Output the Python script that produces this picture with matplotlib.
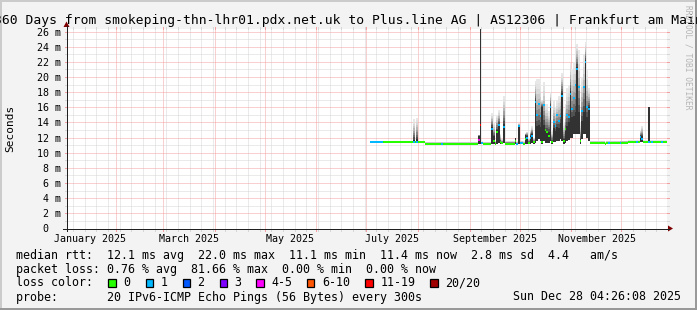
import numpy as np
import pandas as pd
import matplotlib
matplotlib.use("Agg")
import matplotlib.pyplot as plt
import matplotlib.dates as mdates
import matplotlib.transforms as mtransforms
from matplotlib.collections import LineCollection
from matplotlib.patches import Rectangle, Polygon
from matplotlib.lines import Line2D

# ---------------------------------------------------------------- data
TITLE = "360 Days from smokeping-thn-lhr01.pdx.net.uk to Plus.line AG | AS12306 | Frankfurt am Main"
END_TIME = "2025-12-28 04:26:08"
SPAN_DAYS = 360

DATES = [
    "2025-07-03", "2025-07-11", "2025-07-29", "2025-07-30", "2025-07-31", "2025-08-01",
    "2025-08-05", "2025-08-15", "2025-08-16", "2025-09-06", "2025-09-07", "2025-09-08",
    "2025-09-09", "2025-09-14", "2025-09-15", "2025-09-16", "2025-09-17", "2025-09-18",
    "2025-09-19", "2025-09-20", "2025-09-21", "2025-09-22", "2025-09-28", "2025-09-29",
    "2025-09-30", "2025-10-01", "2025-10-03", "2025-10-04", "2025-10-05", "2025-10-06",
    "2025-10-07", "2025-10-08", "2025-10-09", "2025-10-10", "2025-10-11", "2025-10-12",
    "2025-10-13", "2025-10-14", "2025-10-15", "2025-10-16", "2025-10-17", "2025-10-18",
    "2025-10-19", "2025-10-20", "2025-10-21", "2025-10-22", "2025-10-23", "2025-10-24",
    "2025-10-25", "2025-10-26", "2025-10-27", "2025-10-28", "2025-10-29", "2025-10-30",
    "2025-10-31", "2025-11-01", "2025-11-02", "2025-11-03", "2025-11-04", "2025-11-05",
    "2025-11-06", "2025-11-07", "2025-11-08", "2025-11-09", "2025-11-10", "2025-11-11",
    "2025-11-12", "2025-11-21", "2025-11-22", "2025-11-23", "2025-11-24", "2025-11-30",
    "2025-12-01", "2025-12-05", "2025-12-10", "2025-12-11", "2025-12-12", "2025-12-13",
    "2025-12-14", "2025-12-17", "2025-12-18", "2025-12-19", "2025-12-20", "2025-12-25",
    "2025-12-26",
]
MEDIAN_MS = [
    11.43, 11.43, 11.43, 11.43, 11.43, 11.43,
    11.17, 11.17, 11.17, 11.65, 13.7, 11.3,
    11.17, 13.2, 11.6, 11.2, 12.75, 13.6,
    11.4, 11.3, 13.4, 11.2, 11.5, 11.2,
    13.5, 11.3, 11.2, 11.8, 11.9, 11.3,
    11.9, 12.2, 11.4, 16.7, 15.0, 16.5,
    14.9, 11.4, 16.3, 13.0, 12.75, 12.2,
    16.0, 11.4, 14.1, 13.5, 14.95, 14.2,
    14.8, 17.5, 11.5, 13.2, 14.95, 14.7,
    17.8, 15.8, 17.2, 18.9, 21.0, 18.7,
    11.5, 15.5, 18.7, 22.0, 16.0, 15.8,
    11.3, 11.15, 11.3, 11.3, 11.3, 11.35,
    11.35, 11.43, 11.43, 11.43, 12.1, 11.8,
    11.43, 11.43, 11.43, 11.43, 11.43, 11.43,
    11.43,
]
LOSS = [
    1, 0, 1, 0, 1, 0,
    0, 1, 0, 4, 15, 1,
    0, 1, 0, 0, 0, 1,
    0, 0, 1, 0, 0, 1,
    1, 1, 0, 0, 1, 0,
    1, 1, 0, 1, 1, 1,
    1, 0, 1, 0, 0, 0,
    1, 0, 1, 1, 1, 1,
    1, 1, 0, 0, 1, 1,
    1, 1, 1, 1, 1, 1,
    0, 1, 1, 1, 1, 1,
    0, 0, 0, 1, 0, 1,
    0, 0, 1, 0, 1, 1,
    0, 1, 0, 1, 0, 1,
    0,
]
SMOKE_LO_MS = [
    11.35, 11.35, 11.35, 11.35, 11.35, 11.35,
    11.1, 11.1, 11.1, 11.2, 11.2, 11.1,
    11.1, 11.2, 11.2, 11.1, 11.2, 11.3,
    11.2, 11.2, 11.3, 11.1, 11.2, 11.1,
    11.2, 11.1, 11.1, 11.2, 11.2, 11.1,
    11.2, 11.3, 11.2, 11.3, 11.5, 11.8,
    11.6, 11.2, 11.5, 11.3, 11.3, 11.3,
    11.5, 11.2, 11.4, 11.4, 11.5, 11.5,
    11.8, 11.5, 11.2, 11.3, 11.6, 11.7,
    12.0, 12.0, 12.5, 12.5, 12.5, 12.5,
    11.2, 11.8, 12.5, 12.5, 12.0, 11.5,
    11.1, 11.05, 11.1, 11.1, 11.1, 11.15,
    11.15, 11.3, 11.3, 11.3, 11.4, 11.4,
    11.3, 11.35, 11.3, 11.3, 11.3, 11.3,
    11.3,
]
SMOKE_DARK_MS = [
    11.43, 11.43, 11.43, 11.43, 11.43, 11.43,
    11.17, 11.17, 11.17, 12.2, 26.4, 11.3,
    11.17, 13.2, 12.0, 11.2, 12.75, 13.6,
    11.4, 11.3, 13.4, 11.2, 11.9, 11.2,
    13.5, 11.3, 11.2, 12.3, 12.2, 11.3,
    12.2, 12.4, 11.4, 16.7, 12.8, 13.0,
    12.8, 16.0, 13.0, 12.5, 12.5, 12.5,
    16.0, 11.4, 12.8, 12.5, 13.0, 12.8,
    13.5, 17.6, 11.5, 12.5, 13.0, 13.5,
    17.8, 14.0, 14.0, 14.5, 21.0, 14.5,
    11.5, 13.5, 14.5, 22.0, 14.0, 15.8,
    11.3, 11.15, 11.3, 11.3, 11.3, 11.35,
    11.35, 11.43, 11.43, 11.43, 12.1, 12.1,
    11.43, 16.05, 11.43, 11.43, 11.43, 11.43,
    11.43,
]
SMOKE_HI_MS = [
    11.6, 11.6, 14.4, 11.6, 14.65, 11.6,
    11.45, 11.45, 11.45, 12.4, 26.4, 11.5,
    11.45, 15.2, 14.0, 11.6, 15.0, 15.6,
    12.5, 11.8, 17.5, 11.6, 12.0, 11.5,
    13.9, 11.6, 11.5, 12.6, 12.8, 12.0,
    12.9, 13.5, 12.0, 19.5, 19.8, 19.8,
    19.4, 17.0, 19.4, 16.5, 16.5, 15.5,
    18.0, 13.0, 16.8, 16.0, 17.0, 17.5,
    18.0, 20.5, 14.0, 16.5, 18.5, 19.0,
    21.8, 21.0, 22.0, 23.0, 24.4, 23.5,
    14.0, 20.0, 23.0, 24.6, 21.0, 18.5,
    11.6, 11.45, 11.6, 11.6, 11.6, 11.6,
    11.6, 11.65, 11.65, 11.65, 13.0, 13.5,
    11.65, 16.05, 11.65, 11.65, 11.65, 11.65,
    11.65,
]

Y_MAX_MS = 26.4
Y_TICKS = [0, 2, 4, 6, 8, 10, 12, 14, 16, 18, 20, 22, 24, 26]
Y_TICK_LABELS = ["0  ", "2 m", "4 m", "6 m", "8 m", "10 m", "12 m", "14 m",
                 "16 m", "18 m", "20 m", "22 m", "24 m", "26 m"]
X_LABEL_MONTHS = ["2025-01-01", "2025-03-01", "2025-05-01",
                  "2025-07-01", "2025-09-01", "2025-11-01"]
X_LABELS = ["January 2025", "March 2025", "May 2025",
            "July 2025", "September 2025", "November 2025"]

LOSS_LABELS = ["0", "1", "2", "3", "4-5", "6-10", "11-19", "20/20"]
LOSS_UPPER = [0, 1, 2, 3, 5, 10, 19, 20]
LOSS_COLORS = ["#26ff00", "#00b8ff", "#0059ff", "#7e00ff",
               "#ff00ff", "#ff5500", "#ff0000", "#a10000"]

RTT_LINE = "median rtt:  12.1 ms avg  22.0 ms max  11.1 ms min  11.4 ms now  2.8 ms sd  4.4   am/s"
LOSS_LINE = "packet loss: 0.76 % avg  81.66 % max  0.00 % min  0.00 % now"
PROBE_LINE = "probe:       20 IPv6-ICMP Echo Pings (56 Bytes) every 300s"
STAMP_TEXT = "Sun Dec 28 04:26:08 2025"

# ---------------------------------------------------------------- layout
W, H = 697, 310
MONO = "DejaVu Sans Mono"
fig = plt.figure(figsize=(W / 100, H / 100), dpi=100)
fig.patch.set_facecolor("#f3f3f3")
PX = mtransforms.Affine2D().scale(1.0 / W, -1.0 / H).translate(0, 1) + fig.transFigure

X0, X1, Y0, Y1 = 66.5, 666.5, 228.5, 28.5
ax = fig.add_axes([X0 / W, 1 - Y0 / H, (X1 - X0) / W, (Y0 - Y1) / H])
ax.set_facecolor("white")
for s in ax.spines.values():
    s.set_visible(False)

end = pd.Timestamp(END_TIME)
start = end - pd.Timedelta(days=SPAN_DAYS)
ax.set_xlim(mdates.date2num(start), mdates.date2num(end))
ax.set_ylim(0, Y_MAX_MS)

MINOR_C = "#d6d6d6"
MAJOR_C = "#f4a0a0"
DOT = (0, (1, 1))
ext_y = 2.0 / (Y0 - Y1)
ext_x = 2.0 / (X1 - X0)
tv = mtransforms.blended_transform_factory(ax.transData, ax.transAxes)
th = mtransforms.blended_transform_factory(ax.transAxes, ax.transData)

weeks = pd.date_range(start.normalize(), end, freq="W-MON")
months = pd.date_range("2025-02-01", end, freq="MS")
for d, col in [(d, MINOR_C) for d in weeks if d.day != 1] + [(d, MAJOR_C) for d in months]:
    xd = mdates.date2num(d)
    ax.plot([xd, xd], [-ext_y, 1 + ext_y], transform=tv, color=col, lw=0.72,
            ls=DOT, clip_on=False, zorder=1)
    ax.plot([xd, xd], [-ext_y, 0], transform=tv, color=col, lw=0.72, clip_on=False, zorder=1)
    ax.plot([xd, xd], [1, 1 + ext_y], transform=tv, color=col, lw=0.72, clip_on=False, zorder=1)

for v in range(1, 27):
    col = MAJOR_C if v % 2 == 0 else MINOR_C
    ax.plot([-ext_x, 1 + ext_x], [v, v], transform=th, color=col, lw=0.72,
            ls=DOT, clip_on=False, zorder=1)
    ax.plot([-ext_x, 0], [v, v], transform=th, color=col, lw=0.72, clip_on=False, zorder=1)
    ax.plot([1, 1 + ext_x], [v, v], transform=th, color=col, lw=0.72, clip_on=False, zorder=1)

# ---------------------------------------------------------------- smoke + median
edges = mdates.date2num(pd.to_datetime(DATES + [END_TIME], format="ISO8601"))
lo = np.array(SMOKE_LO_MS)
dk = np.array(SMOKE_DARK_MS)
hi = np.array(SMOKE_HI_MS)
NB = 10
for k in range(NB):
    f = (NB - k) / NB
    top = dk + (hi - dk) * f
    g = int(round(232 - 182 * (k / (NB - 1)) ** 1.6))
    ax.fill_between(edges, np.append(lo, lo[-1]), np.append(top, top[-1]), step="post",
                    color="#%02x%02x%02x" % (g, g, g), lw=0, zorder=3)


def loss_color(n):
    for up, c in zip(LOSS_UPPER, LOSS_COLORS):
        if n <= up:
            return c
    return LOSS_COLORS[-1]


segs, cols = [], []
for i, m in enumerate(MEDIAN_MS):
    segs.append([(edges[i], m), (edges[i + 1], m)])
    cols.append(loss_color(LOSS[i]))
ax.add_collection(LineCollection(segs, colors=cols, linewidths=1.44, capstyle="butt", zorder=5))

# ---------------------------------------------------------------- ticks
ax.set_yticks(Y_TICKS)
ax.set_yticklabels(Y_TICK_LABELS, fontfamily=MONO, fontsize=7.2)
mid = [mdates.date2num(pd.Timestamp(m) + pd.Timedelta(days=15, hours=12)) for m in X_LABEL_MONTHS]
ax.set_xticks(mid)
ax.set_xticklabels(X_LABELS, fontfamily=MONO, fontsize=7.2)
ax.tick_params(axis="y", length=0, pad=4.3)
ax.tick_params(axis="x", length=0, pad=3.6)

# ---------------------------------------------------------------- axes lines + arrows
AXC = "#202020"
fig.add_artist(Line2D([63, 669], [228.5, 228.5], transform=PX, color=AXC, lw=0.72))
fig.add_artist(Line2D([66.5, 66.5], [231, 26], transform=PX, color=AXC, lw=0.72))
fig.add_artist(Polygon([[668, 225.5], [673, 228.5], [668, 231.5]], closed=True,
                       transform=PX, color="#7f0000", lw=0))
fig.add_artist(Polygon([[63.5, 27], [66.5, 21.5], [69.5, 27]], closed=True,
                       transform=PX, color="#7f0000", lw=0))

# ---------------------------------------------------------------- texts
fig.text(348.5, 24, TITLE, transform=PX, ha="center", va="baseline",
         fontfamily=MONO, fontsize=9.4, color="black")
fig.text(10.5, 128, "Seconds", transform=PX, ha="center", va="center",
         rotation=90, fontfamily=MONO, fontsize=8, color="black")
fig.text(688, 57, "RRDTOOL / TOBI OETIKER", transform=PX, ha="center", va="center",
         rotation=270, fontfamily=MONO, fontsize=5.7, color="#b4b4b4")

LFS = 8.4
LX = 16.2
BASE = [258.5, 272.5, 286.5, 300.5]
fig.text(LX, BASE[0], RTT_LINE, transform=PX, fontfamily=MONO, fontsize=LFS, va="baseline")
fig.text(LX, BASE[1], LOSS_LINE, transform=PX, fontfamily=MONO, fontsize=LFS, va="baseline")
fig.text(LX, BASE[2], "loss color:", transform=PX, fontfamily=MONO, fontsize=LFS, va="baseline")
for bx, lab, c in zip([108.3, 145.5, 182.5, 219.5, 256.3, 306.8, 365.2, 430.3],
                      LOSS_LABELS, LOSS_COLORS):
    fig.add_artist(Rectangle((bx, 279.3), 7.5, 7.5, transform=PX, facecolor=c,
                             edgecolor="black", lw=0.9))
    fig.text(bx + 15, BASE[2], lab, transform=PX, fontfamily=MONO, fontsize=LFS, va="baseline")
fig.text(LX, BASE[3], PROBE_LINE, transform=PX, fontfamily=MONO, fontsize=LFS, va="baseline")
fig.text(681, BASE[3], STAMP_TEXT, transform=PX, fontfamily=MONO, fontsize=LFS,
         va="baseline", ha="right")

# ---------------------------------------------------------------- frame
fig.add_artist(Rectangle((0, 0), W, 2, transform=PX, color="#cbcbcb", lw=0))
fig.add_artist(Rectangle((0, 0), 2, H, transform=PX, color="#cbcbcb", lw=0))
fig.add_artist(Rectangle((0, H - 2), W, 2, transform=PX, color="#999999", lw=0))
fig.add_artist(Rectangle((W - 2, 0), 2, H, transform=PX, color="#999999", lw=0))

fig.savefig("out.png", dpi=100, facecolor=fig.get_facecolor())
